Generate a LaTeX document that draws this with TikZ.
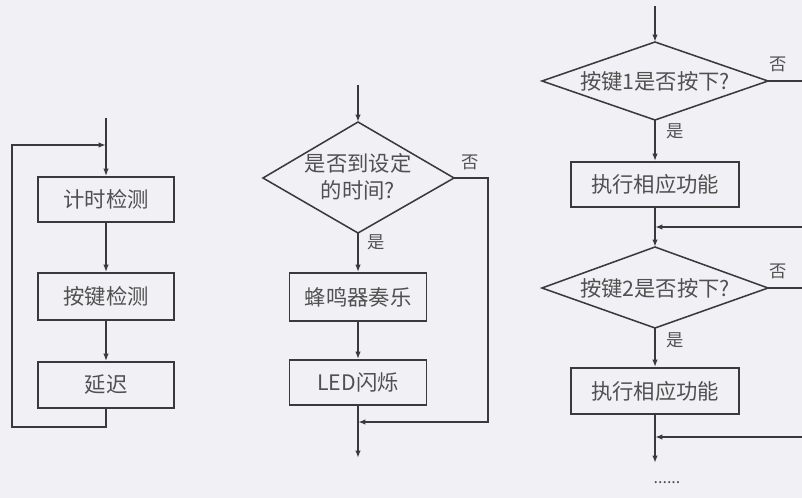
\documentclass[tikz,border=0pt]{standalone}
\usepackage{fontspec}
\setmainfont{Noto Sans CJK SC}
\usetikzlibrary{arrows.meta}
\definecolor{bg}{RGB}{241,241,245}
\definecolor{ln}{RGB}{58,58,58}
\definecolor{tx}{RGB}{80,80,80}
\tikzset{
  flow/.style={draw=ln,line width=1.15pt},
  arr/.style={flow,-{Latex[length=5.5pt,width=4pt]}},
  stepbox/.style={draw=ln,line width=1.4pt,rectangle,inner sep=0pt,text=tx,
    font=\fontsize{16pt}{19pt}\selectfont},
  dtext/.style={inner sep=0pt,text=tx,align=center,
    font=\fontsize{16pt}{20pt}\selectfont},
  dline/.style={draw=ln,line width=1.15pt,line join=miter},
  lbl/.style={text=tx,inner sep=0pt,font=\fontsize{13pt}{15pt}\selectfont}
}
\begin{document}
\begin{tikzpicture}[x=0.75pt,y=-0.75pt]
\fill[bg] (0,0) rectangle (802,498);
\useasboundingbox (0,0) rectangle (802,498);

% ---------- left column ----------
\coordinate (lt) at (106,118);
\node[stepbox,minimum width=136*0.75pt,minimum height=45*0.75pt] (b1) at (106,199.5) {计时检测};
\node[stepbox,minimum width=136*0.75pt,minimum height=47*0.75pt] (b2) at (106,296.5) {按键检测};
\node[stepbox,minimum width=136*0.75pt,minimum height=46*0.75pt] (b3) at (106,385) {延迟};
\coordinate (lj) at (106,145);
\coordinate (lb) at (106,427);
\coordinate (ll) at (12,427);
\coordinate (lu) at (12,145);
\draw[arr] (lt) -- (b1.north);
\draw[arr] (b1.south) -- (b2.north);
\draw[arr] (b2.south) -- (b3.north);
\draw[arr] (b3.south) -- (lb) -- (ll) -- (lu) -- (lj);

% ---------- middle column ----------
\coordinate (mt) at (358,85);
\node[dtext] (d0) at (358,177) {是否到设定\\的时间?};
\coordinate (d0n) at (358,122);
\coordinate (d0s) at (358,233);
\coordinate (d0w) at (263,178);
\coordinate (d0e) at (454,178);
\draw[dline] (d0n) -- (d0e) -- (d0s) -- (d0w) -- cycle;
\node[stepbox,minimum width=137*0.75pt,minimum height=48*0.75pt] (m1) at (358,297) {蜂鸣器奏乐};
\node[stepbox,minimum width=137*0.75pt,minimum height=45*0.75pt] (m2) at (358,382.5) {LED闪烁};
\node[lbl] (mno) at (470,162) {否};
\node[lbl] (myes) at (376,242) {是};
\coordinate (mr) at (488,178);
\coordinate (mrb) at (488,422);
\coordinate (mj) at (358,422);
\coordinate (mb) at (358,458);
\draw[arr] (mt) -- (d0n);
\draw[arr] (d0s) -- (m1.north);
\draw[arr] (m1.south) -- (m2.north);
\draw[arr] (d0e) -- (mr) -- (mrb) -- (mj);
\draw[arr] (m2.south) -- (mb);

% ---------- right column ----------
\coordinate (rt) at (655,6);
\node[dtext] (d1) at (655,81) {按键1是否按下?};
\coordinate (d1n) at (655,42);
\coordinate (d1s) at (655,120);
\coordinate (d1w) at (542,81);
\coordinate (d1e) at (768,81);
\draw[dline] (d1n) -- (d1e) -- (d1s) -- (d1w) -- cycle;
\node[stepbox,minimum width=168*0.75pt,minimum height=45*0.75pt] (r1) at (655,184.5) {执行相应功能};
\node[dtext] (d2) at (655,288) {按键2是否按下?};
\coordinate (d2n) at (655,247);
\coordinate (d2s) at (655,328);
\coordinate (d2w) at (542,288);
\coordinate (d2e) at (768,288);
\draw[dline] (d2n) -- (d2e) -- (d2s) -- (d2w) -- cycle;
\node[stepbox,minimum width=168*0.75pt,minimum height=46*0.75pt] (r2) at (655,391) {执行相应功能};
\node[lbl] (rno1) at (778,64) {否};
\node[lbl] (ryes1) at (675,131) {是};
\node[lbl] (rno2) at (778,271) {否};
\node[lbl] (ryes2) at (675,340) {是};
\node[text=tx,inner sep=0pt,font=\fontsize{12pt}{12pt}\selectfont] (dots) at (667,483) {......};
\coordinate (re1) at (802,81);
\coordinate (re2) at (802,288);
\coordinate (rin1) at (802,227);
\coordinate (rj1) at (655,227);
\coordinate (rin2) at (802,437);
\coordinate (rj2) at (655,437);
\coordinate (rb) at (655,463);
\draw[arr] (rt) -- (d1n);
\draw[flow] (d1e) -- (re1);
\draw[arr] (d1s) -- (r1.north);
\draw[arr] (rin1) -- (rj1);
\draw[arr] (r1.south) -- (d2n);
\draw[flow] (d2e) -- (re2);
\draw[arr] (d2s) -- (r2.north);
\draw[arr] (rin2) -- (rj2);
\draw[arr] (r2.south) -- (rb);
\end{tikzpicture}
\end{document}
